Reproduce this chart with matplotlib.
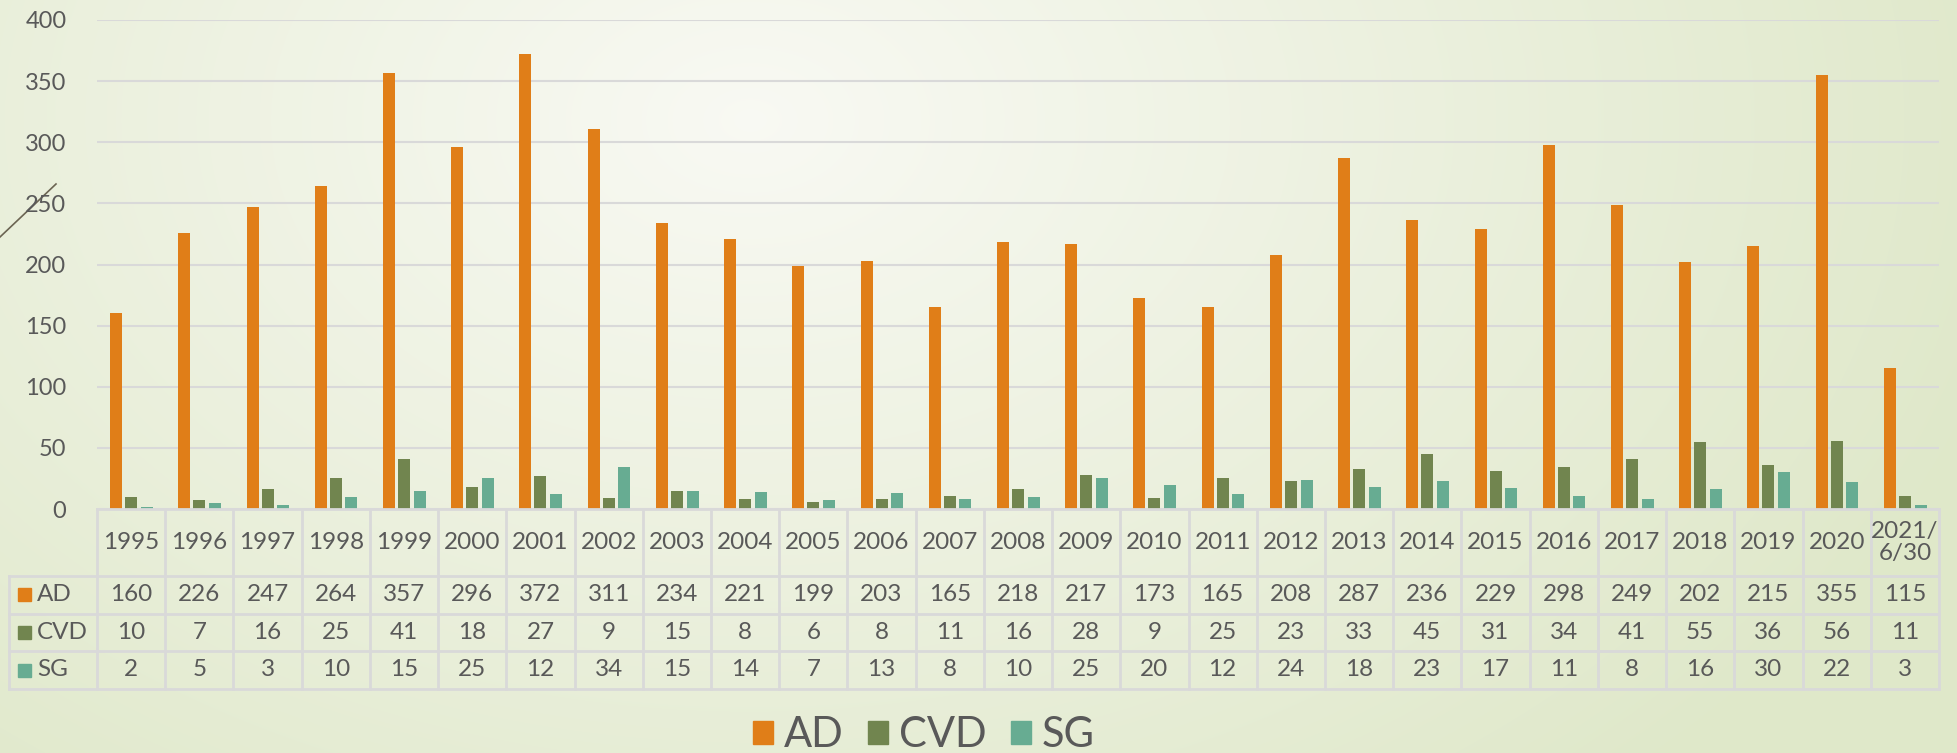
import matplotlib.pyplot as plt
import numpy as np
from matplotlib.patches import Patch, Rectangle

plt.rcParams['font.family'] = ['Lato', 'DejaVu Sans']

# Les données du graphique
years = ["1995", "1996", "1997", "1998", "1999", "2000", "2001", "2002", "2003",
         "2004", "2005", "2006", "2007", "2008", "2009", "2010", "2011", "2012",
         "2013", "2014", "2015", "2016", "2017", "2018", "2019", "2020", "2021/\n6/30"]
ad = [160, 226, 247, 264, 357, 296, 372, 311, 234, 221, 199, 203, 165, 218, 217,
      173, 165, 208, 287, 236, 229, 298, 249, 202, 215, 355, 115]
cvd = [10, 7, 16, 25, 41, 18, 27, 9, 15, 8, 6, 8, 11, 16, 28, 9, 25, 23, 33, 45,
       31, 34, 41, 55, 36, 56, 11]
sg = [2, 5, 3, 10, 15, 25, 12, 34, 15, 14, 7, 13, 8, 10, 25, 20, 12, 24, 18, 23,
      17, 11, 8, 16, 30, 22, 3]

names = ["AD", "CVD", "SG"]
colors = ["#e07e18", "#71854f", "#67ac92"]
series = [ad, cvd, sg]

W, H = 1957, 753
fig = plt.figure(figsize=(W / 100, H / 100), dpi=100)

# Fond en dégradé radial
bg = fig.add_axes([0, 0, 1, 1], zorder=-10)
yy, xx = np.mgrid[0:H, 0:W]
d = np.sqrt(((xx - 750) / 1300.0) ** 2 + ((yy - 120) / 900.0) ** 2)
d = np.clip(d, 0, 1)
c0 = np.array([0.975, 0.978, 0.955])
c1 = np.array([0.875, 0.910, 0.790])
img = c0[None, None, :] * (1 - d[..., None]) + c1[None, None, :] * d[..., None]
bg.imshow(img, extent=[0, W, H, 0], aspect='auto')
bg.set_xlim(0, W)
bg.set_ylim(H, 0)
bg.axis('off')
# petite ligne décorative à gauche
bg.plot([0, 56], [237, 184], color="#6b6452", lw=1.2)

left, right = 97 / W, 1939 / W
ax = fig.add_axes([left, 1 - 509 / H, right - left, (509 - 20) / H])
ax.patch.set_alpha(0)
x = np.arange(len(years))
bw = 0.175
offsets = [-0.22, 0.0, 0.23]
for vals, col, off, name in zip(series, colors, offsets, names):
    ax.bar(x + off, vals, width=bw, color=col, label=name, zorder=3)

ax.set_xlim(-0.5, len(years) - 0.5)
ax.set_ylim(0, 400)
ax.set_yticks(np.arange(0, 401, 50))
ax.set_xticks([])
ax.tick_params(axis='y', length=0, pad=22, labelsize=17, labelcolor="#595959")
ax.grid(axis='y', color="#d9d9d9", lw=1.5, zorder=0)
for s in ax.spines.values():
    s.set_visible(False)

# Le tableau de données sous le graphique
tab = fig.add_axes([left, 1 - 689 / H, right - left, 180 / H])
tab.patch.set_alpha(0)
tab.set_xlim(-0.5, len(years) - 0.5)
tab.set_ylim(180, 0)
tab.axis('off')
rows = [0, 67, 104.5, 142, 180]
lc = "#d9d9d9"
xl = -0.5 - 88 / 68.2
n = len(years)
# lignes horizontales
tab.plot([-0.5, n - 0.5], [0, 0], color=lc, lw=2, clip_on=False)
for r in rows[1:]:
    tab.plot([xl, n - 0.5], [r, r], color=lc, lw=2, clip_on=False)
# lignes verticales
for i in range(n + 1):
    tab.plot([i - 0.5, i - 0.5], [0, 180], color=lc, lw=2, clip_on=False)
tab.plot([xl, xl], [67, 180], color=lc, lw=2, clip_on=False)

for i, yr in enumerate(years):
    tab.text(i, 33.5, yr, ha='center', va='center', fontsize=17.5,
             color="#595959", linespacing=1.1)
    for j, vals in enumerate(series):
        ym = (rows[j + 1] + rows[j + 2]) / 2
        tab.text(i, ym, str(vals[i]), ha='center', va='center', fontsize=17.5,
                 color="#595959")

for j, (name, col) in enumerate(zip(names, colors)):
    ym = (rows[j + 1] + rows[j + 2]) / 2
    tab.add_patch(Rectangle((xl + 9 / 68.2, ym - 6.5), 13 / 68.2, 13,
                            color=col, clip_on=False))
    tab.text(xl + 28 / 68.2, ym, name, ha='left', va='center', fontsize=17.5,
             color="#595959", clip_on=False)

handles = [Patch(color=c, label=nm) for c, nm in zip(colors, names)]
fig.legend(handles=handles, loc='center', bbox_to_anchor=(924 / W, 1 - 735 / H),
           ncol=3, frameon=False, fontsize=30, handlelength=0.48,
           handleheight=0.48, handletextpad=0.25, columnspacing=0.6,
           labelcolor="#595959")

fig.savefig("out.png", dpi=100)
